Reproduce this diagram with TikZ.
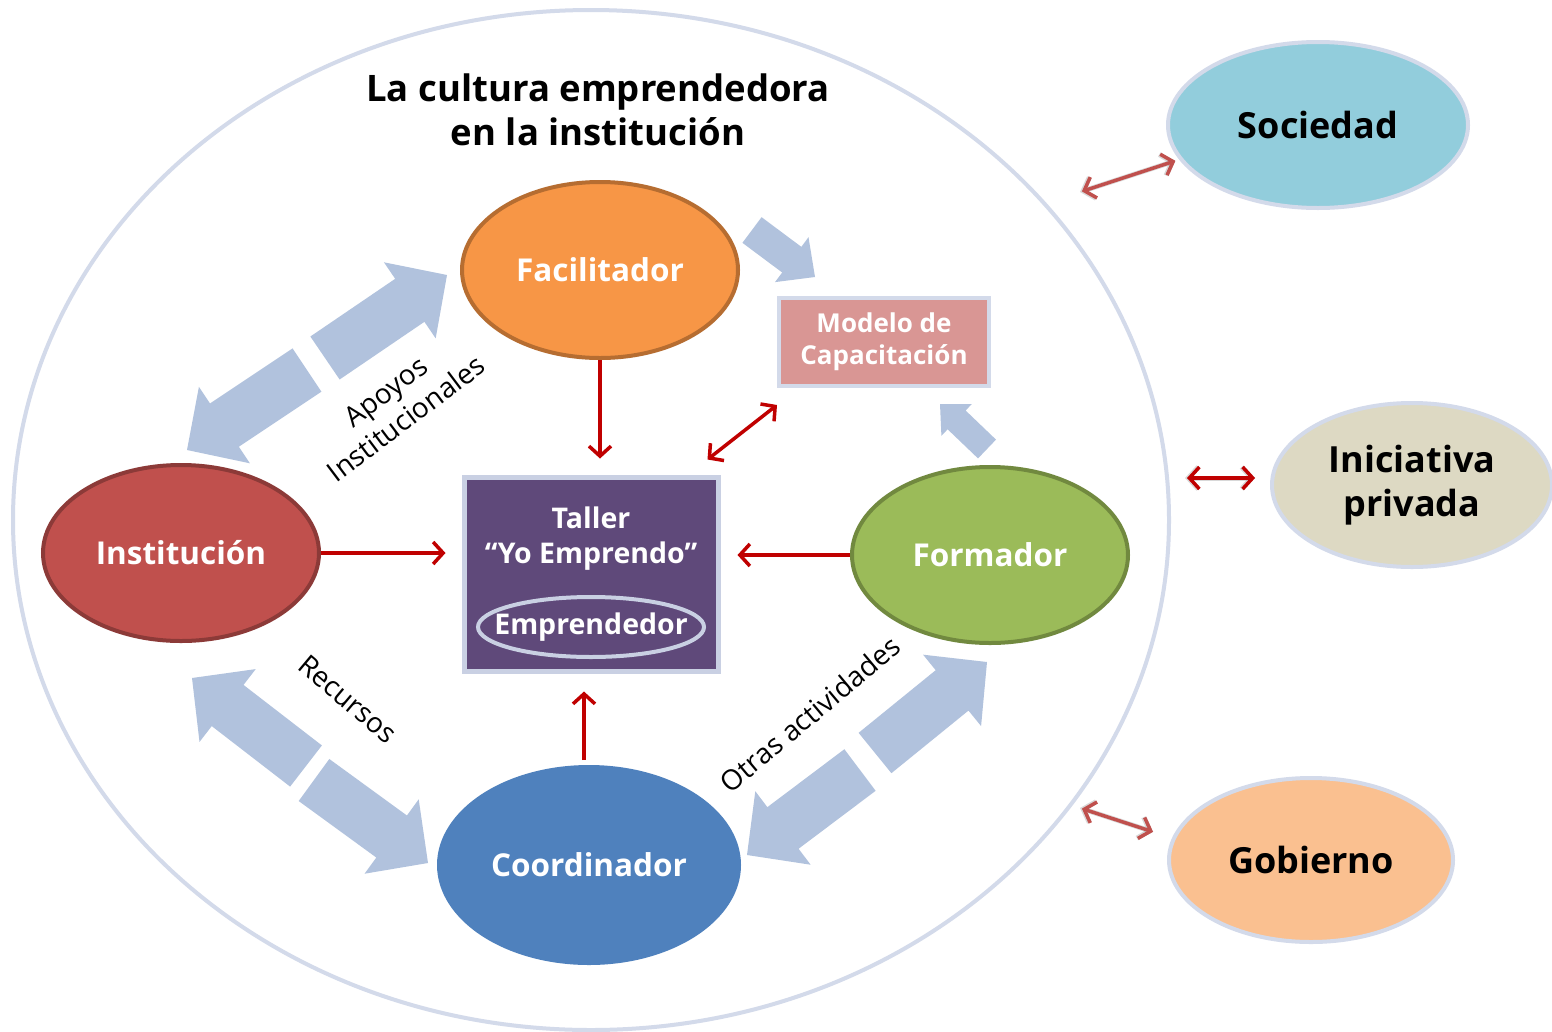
\documentclass[tikz,border=0pt]{standalone}
\usepackage{fontspec}
\setmainfont{Open Sans}
\usetikzlibrary{shapes.geometric,arrows.meta,calc}

\definecolor{ringblue}{HTML}{D3DAEA}
\definecolor{blockblue}{HTML}{B1C2DD}
\definecolor{darkred}{HTML}{C00000}
\definecolor{softred}{HTML}{C0504D}
\definecolor{facilfill}{HTML}{F79646}
\definecolor{facilline}{HTML}{B66D31}
\definecolor{instfill}{HTML}{C0504D}
\definecolor{instline}{HTML}{8C3A38}
\definecolor{formfill}{HTML}{9BBB59}
\definecolor{formline}{HTML}{71893F}
\definecolor{coordfill}{HTML}{4F81BD}
\definecolor{tallerfill}{HTML}{5F497A}
\definecolor{tallerline}{HTML}{C9D0E3}
\definecolor{modelofill}{HTML}{D99694}
\definecolor{socfill}{HTML}{92CDDC}
\definecolor{inicfill}{HTML}{DDD9C3}
\definecolor{gobfill}{HTML}{FAC090}

% block arrow: tail, tip, half shaft, half head, head length
\newcommand{\blockarrow}[5]{%
  \coordinate (hb) at ($(#2)!#5!(#1)$);
  \fill[blockblue] ($(#1)!#3!90:(#2)$) -- ($(hb)!#3!90:(#2)$) -- ($(hb)!#4!90:(#2)$)
    -- (#2) -- ($(hb)!#4!-90:(#2)$) -- ($(hb)!#3!-90:(#2)$) -- ($(#1)!#3!-90:(#2)$) -- cycle;}

\begin{document}
\begin{tikzpicture}[x=1pt,y=-1pt,
  >={Straight Barb[length=10pt,width=22pt]},
  mainnode/.style={ellipse, minimum width=276pt, minimum height=176pt, inner sep=0pt,
    line width=4pt, text=white, font=\fontsize{31.5}{34}\selectfont\bfseries},
  outernode/.style={ellipse, draw=ringblue, line width=4pt, inner sep=0pt, align=center,
    font=\fontsize{36}{44}\selectfont\bfseries},
  redarrow/.style={draw=darkred, line width=3.5pt},
  outerarrow/.style={line width=3.5pt, shorten <=2pt},
  shadowarrow/.style={draw=gray, opacity=0.3, line width=5pt, xshift=-3pt, yshift=-5pt},
  flowlabel/.style={align=center, font=\fontsize{28}{34}\selectfont}]

\fill[white] (0,0) rectangle (1552,1031);
\useasboundingbox (0,0) rectangle (1552,1031);

% the institution
\node[ellipse, draw=ringblue, line width=4pt, minimum width=1156pt, minimum height=1020pt] (cultura) at (591,520) {};
\node[align=center, font=\fontsize{36.5}{44}\selectfont\bfseries] (titulo) at (598,110) {La cultura emprendedora\\en la institución};

% block arrows
\blockarrow{325,358}{447,275}{26pt}{46pt}{45pt}
\blockarrow{307,370}{187,450}{26pt}{46pt}{45pt}
\blockarrow{306,766}{192,678}{26pt}{46pt}{45pt}
\blockarrow{314,780}{428,863}{26pt}{46pt}{45pt}
\blockarrow{875,753}{987,662}{26pt}{46pt}{45pt}
\blockarrow{860,770}{747,855}{26pt}{46pt}{45pt}
\blockarrow{752,230}{815,277}{16pt}{28pt}{29pt}
\blockarrow{987,449}{940,404}{13pt}{22pt}{23pt}

% actors
\node[mainnode, fill=facilfill, draw=facilline] (facil) at (600,270) {Facilitador};
\node[mainnode, fill=instfill, draw=instline] (inst) at (181,553) {Institución};
\node[mainnode, fill=formfill, draw=formline] (form) at (990,555) {Formador};
\node[mainnode, fill=coordfill, minimum width=304pt, minimum height=200pt] (coord) at (589,865) {Coordinador};

\node[rectangle, fill=tallerfill, draw=tallerline, line width=5pt, minimum width=254pt, minimum height=194pt] (taller) at (591,574) {};
\node[text=white, align=center, font=\fontsize{28.5}{35}\selectfont\bfseries] (tallertxt) at (591,539) {Taller\\“Yo Emprendo”};
\node[ellipse, draw=tallerline, line width=4pt, minimum width=226pt, minimum height=60pt, inner sep=0pt] (empr) at (591,627) {};
\node[text=white, font=\fontsize{28.5}{30}\selectfont\bfseries] (emprtxt) at (empr) {Emprendedor};

\node[rectangle, fill=modelofill, draw=ringblue, line width=4pt, minimum width=210pt, minimum height=88pt,
  align=center, text=white, font=\fontsize{26}{32}\selectfont\bfseries] (modelo) at (884,342) {Modelo de\\Capacitación};

% environment
\node[outernode, fill=socfill, minimum width=300pt, minimum height=166pt] (soc) at (1318,125) {Sociedad};
\node[outernode, fill=inicfill, minimum width=280pt, minimum height=164pt] (inic) at (1412,485) {Iniciativa\\privada};
\node[outernode, fill=gobfill, minimum width=284pt, minimum height=164pt] (gob) at (1311,860) {Gobierno};

% labels
\node[flowlabel, rotate=37] (apoyos) at (396,405) {Apoyos\\Institucionales};
\node[flowlabel, rotate=-40] (recursos) at (348,699) {Recursos};
\node[flowlabel, rotate=40] (otras) at (810,714) {Otras actividades};

% red arrows into the workshop
\draw[redarrow, ->, shorten >=16pt] (facil.south) -- (taller.north -| facil.south);
\draw[redarrow, ->, shorten >=16pt] (inst.east) -- (taller.west |- inst.east);
\draw[redarrow, ->, shorten >=17pt] (form.west) -- (taller.east |- form.west);
\draw[redarrow, ->, shorten <=3pt, shorten >=18pt] ([xshift=-5pt]coord.north) -- ([xshift=-7pt]taller.south);
\draw[redarrow, <->] ([xshift=-13pt,yshift=15pt]taller.north east) -- ([yshift=-17pt]modelo.south west);

% links to the environment
\coordinate (s1) at (1080,192);
\coordinate (i1) at (1185,478);
\coordinate (g1) at (1080,808);
\draw[shadowarrow, <->, shorten >=4pt] (s1) -- (soc.194);
\draw[shadowarrow, <->, shorten >=15pt] (i1) -- (inic.west |- i1);
\draw[shadowarrow, <->, shorten >=20pt] (g1) -- (gob.171);
\draw[outerarrow, softred, <->, shorten >=4pt] (s1) -- (soc.194);
\draw[outerarrow, darkred, <->, shorten >=15pt] (i1) -- (inic.west |- i1);
\draw[outerarrow, softred, <->, shorten >=20pt] (g1) -- (gob.171);

\end{tikzpicture}
\end{document}
